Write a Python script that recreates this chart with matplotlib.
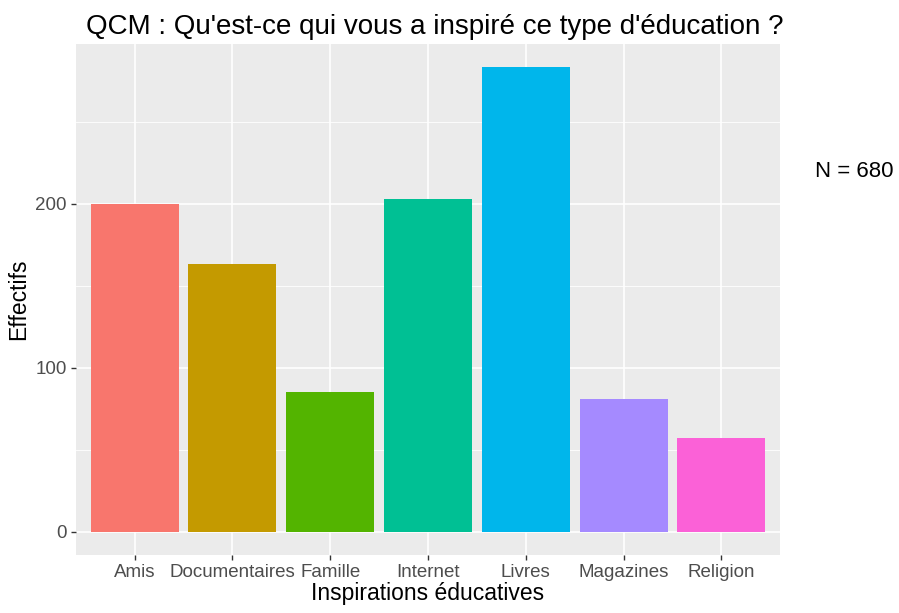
import matplotlib.pyplot as plt

plt.rcParams['font.family'] = ['Liberation Sans', 'DejaVu Sans']

categories = ["Amis", "Documentaires", "Famille", "Internet", "Livres", "Magazines", "Religion"]
effectifs = [200, 163, 85, 203, 283, 81, 57]
colors = ["#F8766D", "#C49A00", "#53B400", "#00C094", "#00B6EB", "#A58AFF", "#FB61D7"]
n_total = 680

fig = plt.figure(figsize=(8.99, 6.13), dpi=100)
ax = fig.add_axes([0.0845, 0.0946, 0.7831, 0.8334])
ax.set_facecolor("#EBEBEB")

x = list(range(1, len(categories) + 1))
ax.bar(x, effectifs, width=0.9, color=colors, zorder=3)

# ggplot-like scales and grid
ymax = max(effectifs)
ax.set_xlim(0.4, len(categories) + 0.6)
ax.set_ylim(-0.05 * ymax, 1.05 * ymax)
ax.set_xticks(x)
ax.set_xticklabels(categories)
ax.set_yticks([0, 100, 200])
ax.set_yticks([50, 150, 250], minor=True)
ax.grid(which="major", color="white", linewidth=1.2, zorder=0)
ax.grid(which="minor", axis="y", color="white", linewidth=0.6, zorder=0)
ax.set_axisbelow(True)
for s in ax.spines.values():
    s.set_visible(False)
ax.tick_params(axis="both", which="major", length=3.5, width=1, color="#333333",
               labelcolor="#4D4D4D", labelsize=13.5, pad=3)
ax.tick_params(axis="both", which="minor", length=0)

ax.set_xlabel("Inspirations éducatives", fontsize=16.5, color="black", labelpad=1)
ax.set_ylabel("Effectifs", fontsize=16.5, color="black", labelpad=4)
ax.set_title("QCM : Qu'est-ce qui vous a inspiré ce type d'éducation ?", fontsize=20, pad=7, x=0.51)

fig.text(0.9066, 0.72, f"N = {n_total}", fontsize=16, ha="left", va="center")

fig.savefig("out.png", dpi=100)
